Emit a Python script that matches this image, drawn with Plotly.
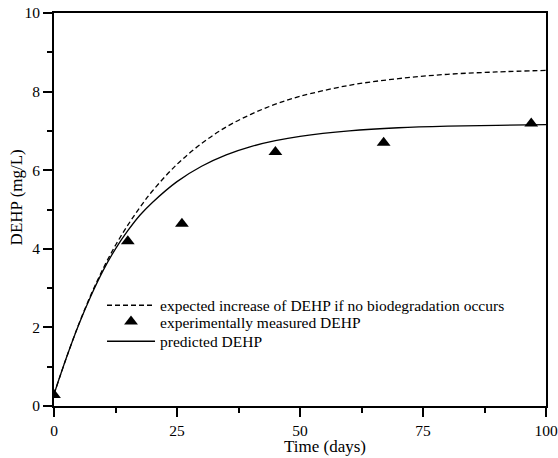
import plotly.graph_objects as go

# Curve sample times (days) and values (mg/L)
t_curve = [0, 2.5, 5, 7.5, 10, 12.5, 15, 17.5, 20, 25, 30, 35, 40, 45, 50, 60, 70, 80, 90, 100]
expected_no_biodeg = [0.30, 1.22, 2.07, 2.83, 3.50, 4.09, 4.60, 5.06, 5.47, 6.15, 6.68, 7.10, 7.42,
                      7.68, 7.88, 8.16, 8.33, 8.44, 8.50, 8.54]
predicted = [0.30, 1.22, 2.06, 2.80, 3.45, 4.00, 4.46, 4.86, 5.18, 5.71, 6.10, 6.39, 6.60, 6.75,
             6.86, 7.00, 7.08, 7.12, 7.14, 7.16]

# Measured points
t_meas = [0, 15, 26, 45, 67, 97]
measured = [0.28, 4.19, 4.64, 6.46, 6.70, 7.19]

x_ticks = [0, 25, 50, 75, 100]
y_ticks = [0, 2, 4, 6, 8, 10]

FONT = "Liberation Serif, Times New Roman, serif"

fig = go.Figure()
fig.add_trace(go.Scatter(
    x=t_curve, y=expected_no_biodeg, mode="lines", line_shape="spline",
    line=dict(color="black", width=1.3, dash="5px,3px"),
    name="expected increase of DEHP if no biodegradation occurs", legend="legend"))
fig.add_trace(go.Scatter(
    x=t_meas, y=measured, mode="markers",
    marker=dict(symbol="triangle-up", size=12, color="black"),
    name="experimentally measured DEHP", legend="legend2"))
fig.add_trace(go.Scatter(
    x=t_curve, y=predicted, mode="lines", line_shape="spline",
    line=dict(color="black", width=1.3),
    name="predicted DEHP", legend="legend3"))

axis_common = dict(
    showgrid=False, zeroline=False, showline=True, linecolor="black", linewidth=2,
    mirror=True, ticks="outside", ticklen=9, tickwidth=1.5, tickcolor="black",
    automargin=False, ticklabeloverflow="allow",
    tickfont=dict(family=FONT, size=15.5, color="black"),
)

fig.update_xaxes(range=[0, 100], tickvals=x_ticks, ticktext=[str(v) for v in x_ticks],
                 minor=dict(ticks="outside", ticklen=5, tickwidth=1.5, tickcolor="black",
                            dtick=12.5, tick0=0, showgrid=False),
                 **axis_common)
fig.update_yaxes(range=[0, 10], tickvals=y_ticks, ticktext=[str(v) for v in y_ticks],
                 minor=dict(ticks="outside", ticklen=5, tickwidth=1.5, tickcolor="black",
                            dtick=1, tick0=0, showgrid=False),
                 **axis_common)

fig.add_annotation(text="Time (days)", xref="paper", yref="paper", x=0.551, y=-0.102,
                   yanchor="middle", xanchor="center", showarrow=False,
                   font=dict(family=FONT, size=17, color="black"))
fig.add_annotation(text="DEHP (mg/L)", xref="paper", yref="paper", x=-0.0763, y=0.532,
                   xanchor="center", yanchor="middle", textangle=-90, showarrow=False,
                   font=dict(family=FONT, size=17, color="black"))

leg_common = dict(xanchor="left", yanchor="top", bgcolor="rgba(0,0,0,0)", itemwidth=48,
                  font=dict(family=FONT, size=15.5, color="black"))

fig.update_layout(
    width=558, height=458,
    margin=dict(l=54, r=12, t=13, b=52, autoexpand=False),
    paper_bgcolor="white", plot_bgcolor="white",
    showlegend=True,
    legend=dict(x=0.0976, y=0.2985, **leg_common),
    legend2=dict(x=0.0976, y=0.2570, **leg_common),
    legend3=dict(x=0.0976, y=0.2069, **leg_common),
)

# remove the browser's default 8px body margin so the figure fills the window
fig.write_html("out.html", config={"displayModeBar": False},
               post_script="document.body.style.margin='0';document.body.style.overflow='hidden';")
